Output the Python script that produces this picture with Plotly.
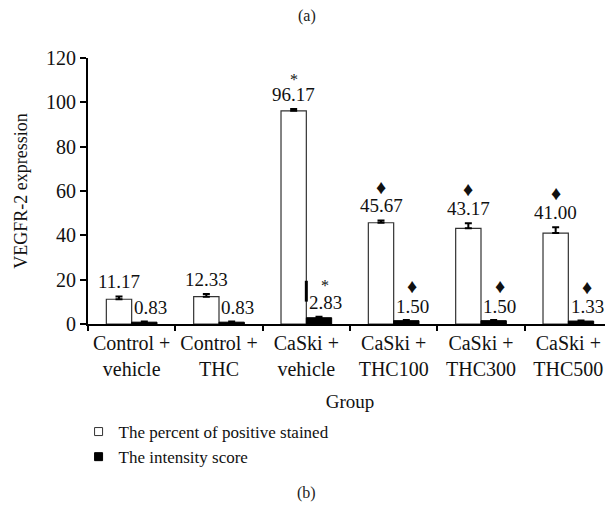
import plotly.graph_objects as go

groups = ["Control +<br>vehicle", "Control +<br>THC", "CaSki +<br>vehicle",
          "CaSki +<br>THC100", "CaSki +<br>THC300", "CaSki +<br>THC500"]
percent_positive = [11.17, 12.33, 96.17, 45.67, 43.17, 41.00]
percent_err = [1.2, 1.2, 0.8, 1.0, 2.3, 2.7]
intensity = [0.83, 0.83, 2.83, 1.50, 1.50, 1.33]
intensity_err = [0.3, 0.3, 0.4, 0.3, 0.3, 0.25]
percent_marks = ["", "", "*", "\u2666", "\u2666", "\u2666"]
intensity_marks = ["", "", "*", "\u2666", "\u2666", "\u2666"]
y_ticks = [0, 20, 40, 60, 80, 100, 120]
artifact_segment = [10.1, 19.5]  # stray line in CaSki + vehicle group

FONT = "Liberation Serif"
# the page body adds an 8px margin, so the figure is laid out 8px up/left
PAGE_OFF = 8
W, H = 613 - PAGE_OFF, 514 - PAGE_OFF
L, R, T, B = 88 - PAGE_OFF, 1, 58 - PAGE_OFF, 514 - 324
plot_w = W - L - R
plot_h = H - T - B
BARGAP = 0.42
bar_frac = (1 - BARGAP) / 2
off = bar_frac / 2


def py(page_pixel):
    """paper y coordinate for a pixel row of the 613x514 page"""
    return (H - B - (page_pixel - PAGE_OFF)) / plot_h


def px(page_pixel):
    """paper x coordinate for a pixel column of the 613x514 page"""
    return (page_pixel - PAGE_OFF - L) / plot_w


fig = go.Figure()
fig.add_trace(go.Bar(
    x=groups, y=percent_positive, name="The percent of positive stained",
    marker=dict(color="white", line=dict(color="#333333", width=1.2)),
    error_y=dict(type="data", array=percent_err, arrayminus=[0]*6, symmetric=False,
                 color="black", thickness=2, width=3.5),
    showlegend=False,
))
fig.add_trace(go.Bar(
    x=groups, y=intensity, name="The intensity score",
    marker=dict(color="black", line=dict(color="black", width=1)),
    error_y=dict(type="data", array=intensity_err, arrayminus=[0]*6, symmetric=False,
                 color="black", thickness=2, width=3.5),
    showlegend=False,
))
# legend entries
fig.add_trace(go.Scatter(x=[None], y=[None], mode="markers", name="The percent of positive stained",
                         marker=dict(symbol="square", size=8, color="white",
                                     line=dict(color="#333333", width=1))))
fig.add_trace(go.Scatter(x=[None], y=[None], mode="markers", name="The intensity score",
                         marker=dict(symbol="square", size=8, color="black",
                                     line=dict(color="black", width=1))))

ann = []
for i in range(len(groups)):
    top = percent_positive[i] + percent_err[i]
    ann.append(dict(x=i - off, y=top, xref="x", yref="y", text=f"{percent_positive[i]:.2f}",
                    showarrow=False, yanchor="middle", yshift=15,
                    font=dict(family=FONT, size=19, color="#111")))
    if percent_marks[i]:
        star = percent_marks[i] == "*"
        ann.append(dict(x=i - off, y=top, xref="x", yref="y", text=percent_marks[i],
                        showarrow=False, yanchor="middle", yshift=30 if star else 34,
                        font=dict(family=FONT, size=16 if star else 20, color="#111")))
    topb = intensity[i] + intensity_err[i]
    ann.append(dict(x=i + off, y=topb, xref="x", yref="y", text=f"{intensity[i]:.2f}",
                    showarrow=False, yanchor="middle", yshift=14, xshift=6,
                    font=dict(family=FONT, size=19, color="#111")))
    if intensity_marks[i]:
        star = intensity_marks[i] == "*"
        ann.append(dict(x=i + off, y=topb, xref="x", yref="y", text=intensity_marks[i],
                        showarrow=False, yanchor="middle", yshift=31 if star else 34, xshift=6,
                        font=dict(family=FONT, size=16 if star else 20, color="#111")))

ann.append(dict(x=px(306.5), y=py(16), xref="paper", yref="paper", yanchor="middle",
                text="(a)", showarrow=False, font=dict(family=FONT, size=16, color="#222")))
ann.append(dict(x=px(306.5), y=py(493), xref="paper", yref="paper", yanchor="middle",
                text="(b)", showarrow=False, font=dict(family=FONT, size=16, color="#222")))

fig.update_layout(
    width=W, height=H,
    margin=dict(l=L, r=R, t=T, b=B, autoexpand=False),
    paper_bgcolor="white", plot_bgcolor="white",
    barmode="group", bargap=BARGAP, bargroupgap=0,
    font=dict(family=FONT, size=18, color="#111"),
    annotations=ann,
    shapes=[dict(type="line", xref="x", yref="y", x0=2, x1=2,
                 y0=artifact_segment[0], y1=artifact_segment[1],
                 line=dict(color="black", width=3))],
    legend=dict(x=-0.018, y=py(414), xanchor="left", yanchor="top",
                font=dict(family=FONT, size=17, color="#111"),
                itemwidth=30, tracegroupgap=0, bgcolor="rgba(0,0,0,0)"),
    xaxis=dict(showline=True, linecolor="black", linewidth=2, ticks="outside",
               tickson="boundaries", ticklen=5, tickwidth=2, tickcolor="black",
               automargin=False, tickangle=0,
               title=dict(text="Group", standoff=16, font=dict(family=FONT, size=19)),
               tickfont=dict(family=FONT, size=20), showgrid=False, zeroline=False),
    yaxis=dict(range=[0, 120], tickvals=y_ticks, showline=True, linecolor="black",
               linewidth=2, ticks="outside", ticklen=6, tickwidth=2, tickcolor="black",
               automargin=False,
               title=dict(text="VEGFR-2 expression", standoff=14, font=dict(family=FONT, size=18)),
               tickfont=dict(family=FONT, size=20), showgrid=False, zeroline=False),
)
fig.write_html("out.html")
